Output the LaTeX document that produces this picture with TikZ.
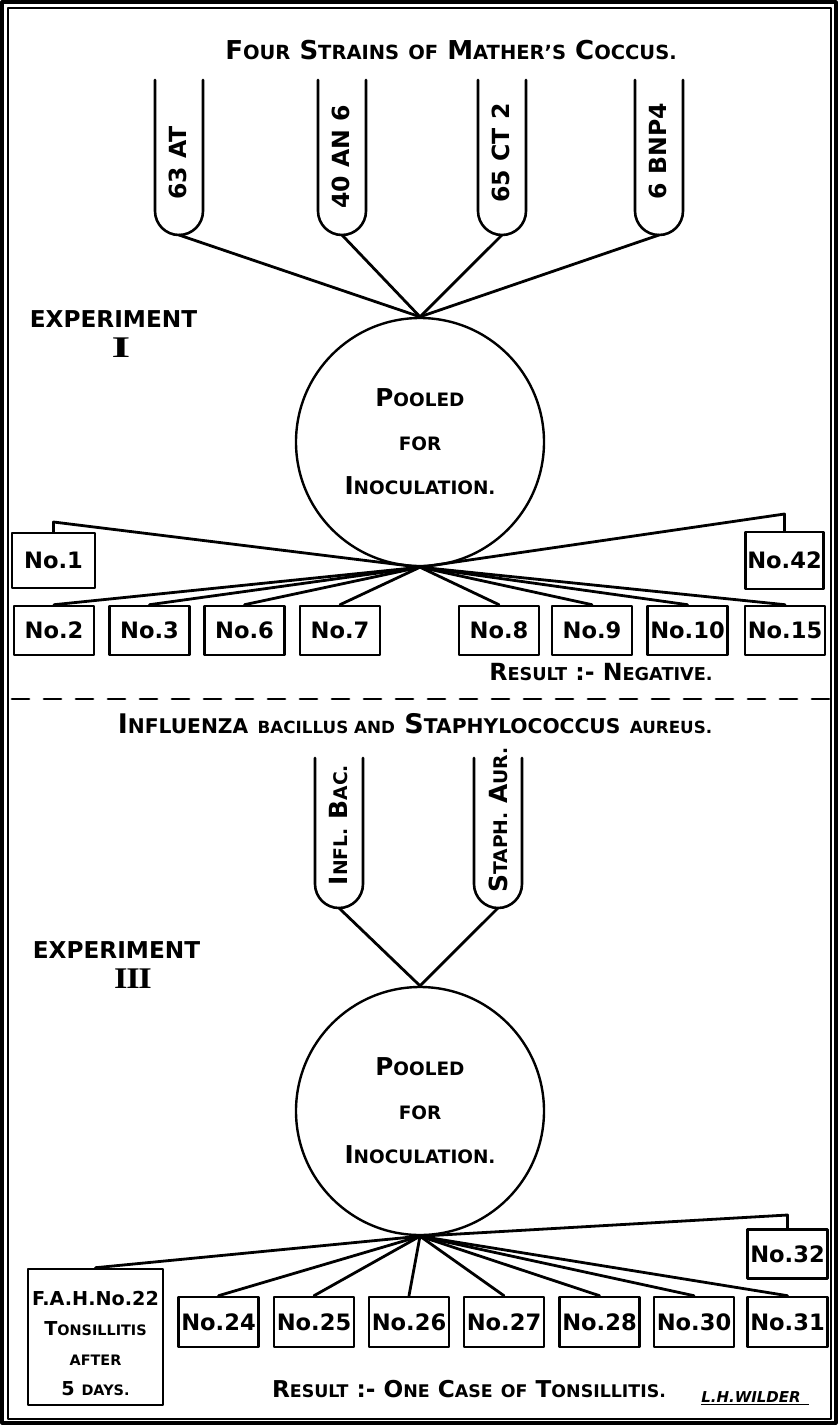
\documentclass[tikz,border=0pt]{standalone}
\usepackage{fontspec}
\setmainfont{DejaVu Sans}
\newfontfamily\romanfont{Liberation Serif}
\usepackage{graphicx}
\usepackage{tikz}
\usetikzlibrary{shapes,calc}
\newcommand{\sm}[1]{\scalebox{0.75}{#1}}
\newcommand{\ssm}[1]{\scalebox{0.62}{#1}}

\begin{document}
\begin{tikzpicture}[x=0.5pt,y=-0.5pt,line cap=round,line join=round,
  wire/.style={line width=1.4pt},
  tube/.style={line width=1.3pt},
  nobox/.style={draw,line width=1.3pt,minimum width=40pt,minimum height=24.5pt,inner sep=1pt,
    font=\bfseries\fontsize{11.3}{13}\selectfont},
  tubelab/.style={rotate=90,font=\bfseries\fontsize{11.8}{14}\selectfont},
  pool/.style={draw,circle,line width=1.2pt,minimum size=124pt,inner sep=0pt,align=center,
    font=\bfseries\fontsize{12.3}{22}\selectfont},
  head/.style={anchor=base,font=\bfseries\fontsize{13}{16}\selectfont},
  exper/.style={anchor=base,font=\bfseries\fontsize{11.6}{14}\selectfont},
  roman/.style={anchor=base,font=\romanfont\bfseries\fontsize{15}{17}\selectfont},
  result/.style={anchor=base,font=\bfseries\fontsize{11.8}{14}\selectfont}]
\useasboundingbox (0,0) rectangle (838,1425);
\draw[line width=1.6pt] (2,2) rectangle (836,1423);
\draw[line width=1pt] (8,8) rectangle (831,1419);

% experiment I
\node[head] (titleA) at (451,59) {F\sm{OUR} S\sm{TRAINS} \sm{OF} M\sm{ATHER'S} C\sm{OCCUS.}};
\foreach \i/\x/\y/\lab in {1/179/163/63 AT,2/342/157/40 AN 6,3/502/153/65 CT 2,4/659/151/6 BNP4}{
  \draw[tube] (\x-24,80) -- (\x-24,211) arc[start angle=180,end angle=0,radius=24] -- (\x+24,80);
  \coordinate (tubeA\i) at (\x,235);
  \node[tubelab] (labA\i) at (\x-1,\y) {\lab};
}
\node[exper] (expA) at (113.5,327) {EXPERIMENT};
\node[roman] (expAnum) at (121,357) {\scalebox{1.6}[1]{I}};
\node[pool] (poolA) at (420,442) {P\sm{OOLED}\\\sm{FOR}\\I\sm{NOCULATION.}};
\foreach \i in {1,...,4} \draw[wire] (tubeA\i) -- (poolA.north);

\node[nobox,minimum width=41.5pt,minimum height=27.5pt] (no1) at (53.5,560.5) {No.1};
\node[nobox,minimum width=38.5pt,minimum height=28.5pt] (no42) at (784.5,560.5) {No.42};
\draw[wire] (poolA.south) -- (no1.north |- 0,522) -- (no1.north);
\draw[wire] (poolA.south) -- (no42.north |- 0,514) -- (no42.north);
\foreach \n/\x in {2/54,3/149.5,6/244.5,7/340,8/499,9/592,10/687.5,15/785}{
  \node[nobox] (no\n) at (\x,630.5) {No.\n};
  \draw[wire] (poolA.south) -- (no\n.north);
}
\node[result] (resA) at (601,680) {R\sm{ESULT} :- N\sm{EGATIVE.}};

\draw[line width=1.4pt,dash pattern=on 8.5pt off 7.5pt] (12,699) -- (830,699);

% experiment III
\node[head,font=\bfseries\fontsize{13.5}{15}\selectfont] (titleB) at (415,733)
  {I\sm{NFLUENZA} \ssm{BACILLUS AND} S\sm{TAPHYLOCOCCUS} \ssm{AUREUS.}};
\foreach \i/\x/\y/\lab in {1/339/825/{I\sm{NFL.} B\sm{AC.}},2/498/820/{S\sm{TAPH.} A\sm{UR.}}}{
  \draw[tube] (\x-24,758) -- (\x-24,884) arc[start angle=180,end angle=0,radius=24] -- (\x+24,758);
  \coordinate (tubeB\i) at (\x,908);
  \node[tubelab,font=\bfseries\fontsize{12.5}{14}\selectfont] (labB\i) at (\x,\y) {\lab};
}
\node[exper] (expB) at (116.5,958) {EXPERIMENT};
\node[roman] (expBnum) at (133,988) {\scalebox{1.15}[1]{I\kern-0.6pt I\kern-0.6pt I}};
\node[pool] (poolB) at (420,1111) {P\sm{OOLED}\\\sm{FOR}\\I\sm{NOCULATION.}};
\foreach \i in {1,2} \draw[wire] (tubeB\i) -- (poolB.north);

\node[nobox,minimum width=67.5pt,minimum height=68pt,align=center,
  font=\bfseries\fontsize{9.6}{15}\selectfont] (fah) at (95.5,1337)
  {\rule{0pt}{14pt}F.A.H.No.22\\T\sm{ONSILLITIS}\\\sm{AFTER}\\5 \sm{DAYS.}};
\draw[wire] (poolB.south) -- (fah.north);
\node[nobox] (no32) at (787.5,1254) {No.32};
\draw[wire] (poolB.south) -- (no32.north |- 0,1215) -- (no32.north);
\foreach \n/\x in {24/218.5,25/314,26/409,27/504,28/599.5,30/694,31/787.5}{
  \node[nobox,minimum height=25pt] (no\n) at (\x,1322) {No.\n};
  \draw[wire] (poolB.south) -- (no\n.north);
}
\node[result,font=\bfseries\fontsize{11.6}{14}\selectfont] (resB) at (469,1397)
  {R\sm{ESULT} :- O\sm{NE} C\sm{ASE} \sm{OF} T\sm{ONSILLITIS.}};
\node[anchor=base,font=\bfseries\itshape\fontsize{7.5}{9}\selectfont] (sign) at (755,1402)
  {\underline{L.H.WILDER\hspace{4pt}}};
\end{tikzpicture}
\end{document}
